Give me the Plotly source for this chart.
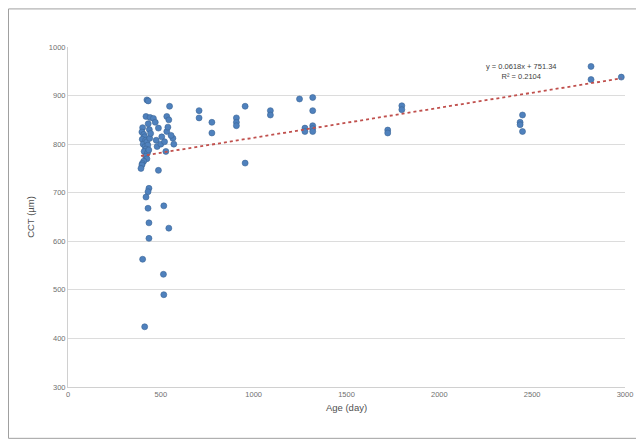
import plotly.graph_objects as go

# Scatter data: Age (day) vs CCT (µm)
age = [402, 398, 408, 412, 400, 418, 405, 425, 415, 430, 420, 410, 428, 435, 418, 425, 408, 400, 398, 393,
       440, 438, 445, 432,
       420, 442, 460, 487, 470, 475, 480, 500, 505, 532, 543, 547, 532, 538, 520, 527, 565, 570, 555, 487,
       425, 432,
       436, 431, 420, 431, 436, 436, 516, 543, 402, 514, 516, 413,
       706, 706, 775, 775, 907, 907, 907, 954, 954, 1090, 1090, 1247, 1318, 1318, 1276, 1276, 1318, 1318, 1318,
       1722, 1722, 1798, 1798, 2448, 2435, 2435, 2448, 2817, 2817, 2980]
cct = [834, 825, 820, 815, 810, 808, 800, 805, 795, 798, 790, 785, 782, 788, 775, 770, 765, 760, 757, 750,
       812, 830, 822, 842,
       857, 855, 853, 833, 845, 808, 795, 800, 815, 857, 850, 878, 826, 835, 805, 785, 812, 800, 818, 746,
       891, 889,
       709, 702, 691, 668, 638, 606, 673, 627, 563, 532, 490, 424,
       869, 854, 845, 823, 854, 845, 838, 878, 761, 869, 860, 893, 896, 869, 833, 826, 838, 832, 826,
       829, 823, 879, 871, 860, 845, 840, 826, 960, 933, 938]

# Linear trendline coefficients (as reported on chart)
slope = 0.0618
intercept = 751.34
r2_text = "0.2104"

x_ticks = [0, 500, 1000, 1500, 2000, 2500, 3000]
y_ticks = [300, 400, 500, 600, 700, 800, 900, 1000]

fig = go.Figure()

fig.add_trace(go.Scatter(
    x=age, y=cct, mode="markers",
    marker=dict(color="#4f81bd", size=6, line=dict(width=0.6, color="#3a6496")),
    showlegend=False, hoverinfo="x+y"))

x_line = [min(age), max(age)]
fig.add_trace(go.Scatter(
    x=x_line, y=[slope * v + intercept for v in x_line], mode="lines",
    line=dict(color="#c0504d", width=1.8, dash="dot"),
    showlegend=False, hoverinfo="skip"))

fig.add_annotation(
    x=2440, y=949, xref="x", yref="y",
    text=f"y = {slope}x + {intercept}<br>R² = {r2_text}",
    showarrow=False, align="center",
    font=dict(family="Liberation Sans, Arial", size=7.5, color="#404040"))

# outer chart frame
fig.add_shape(type="rect", xref="paper", yref="paper",
              x0=-0.1068, x1=1.027, y0=-0.151, y1=1.112,
              line=dict(color="#a0a0a0", width=1), fillcolor="rgba(0,0,0,0)", layer="below")

fig.update_layout(
    width=636, height=435,
    margin=dict(l=60, r=19, t=39, b=56),
    paper_bgcolor="white", plot_bgcolor="white",
    font=dict(family="Liberation Sans, Arial", color="#595959"),
    xaxis=dict(range=[0, 3000], tickvals=x_ticks, ticktext=[str(v) for v in x_ticks],
               showgrid=False, zeroline=False, showline=True, linecolor="#d0d0d0", linewidth=1,
               ticks="", tickfont=dict(size=7.5, color="#707070"),
               title=dict(text="Age (day)", font=dict(size=9.5, color="#505050"), standoff=6)),
    yaxis=dict(range=[300, 1000], tickvals=y_ticks, ticktext=[str(v) for v in y_ticks],
               showgrid=True, gridcolor="#dcdcdc", gridwidth=1, zeroline=False,
               showline=True, linecolor="#d0d0d0", linewidth=1,
               ticks="", tickfont=dict(size=7.5, color="#707070"),
               title=dict(text="CCT (µm)", font=dict(size=9.5, color="#505050"), standoff=12)),
)

fig.write_html("out.html")
